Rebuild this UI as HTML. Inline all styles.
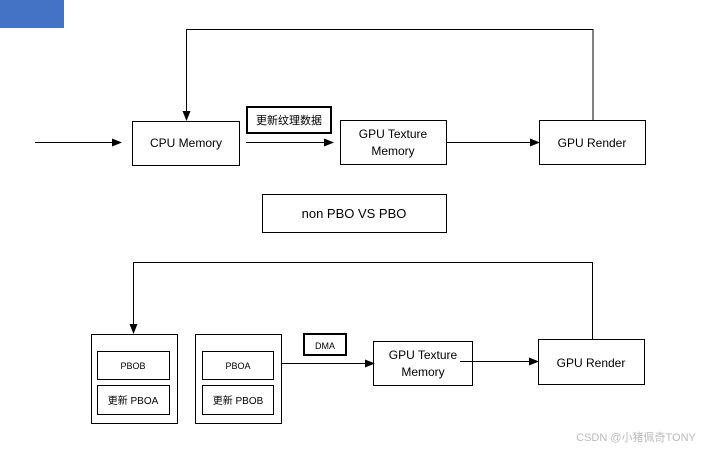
<!DOCTYPE html>
<html><head><meta charset="utf-8"><style>
html,body{margin:0;padding:0;background:#fff;width:712px;height:450px;overflow:hidden}
svg text{font-family:"Liberation Sans","Noto Sans CJK SC",sans-serif;fill:#000}
</style></head><body>
<svg width="712" height="450" viewBox="0 0 712 450" xmlns="http://www.w3.org/2000/svg">
<defs><marker id="a" markerWidth="10" markerHeight="8" refX="9" refY="4" orient="auto" markerUnits="userSpaceOnUse"><path d="M0,0 L10,4 L0,8z" fill="#000"/></marker></defs>
<rect x="0" y="0" width="64" height="28" fill="#4472c4"/>
<g fill="none" stroke="#000" stroke-width="1">
<polyline points="593,120 593,29.5 186.5,29.5 186.5,120" marker-end="url(#a)"/>
<line x1="35" y1="142.5" x2="121" y2="142.5" marker-end="url(#a)"/>
<line x1="246" y1="142.5" x2="333" y2="142.5" marker-end="url(#a)"/>
<line x1="446" y1="142.5" x2="539" y2="142.5" marker-end="url(#a)"/>
<rect x="132.5" y="121.5" width="107" height="44"/>
<rect x="340.5" y="120.5" width="106" height="44"/>
<rect x="539.5" y="120.5" width="106" height="44"/>
<rect x="247" y="107" width="84" height="26" stroke-width="2"/>
<rect x="262.5" y="194.5" width="184" height="38"/>
<polyline points="592.5,339 592.5,262.5 133.5,262.5 133.5,333" marker-end="url(#a)"/>
<line x1="281" y1="363.5" x2="374" y2="363.5" marker-end="url(#a)"/>
<line x1="460" y1="361.5" x2="538" y2="361.5" marker-end="url(#a)"/>
<rect x="91.5" y="334.5" width="86" height="89"/>
<rect x="97.5" y="351.5" width="72" height="28"/>
<rect x="97.5" y="385.5" width="72" height="29"/>
<rect x="195.5" y="334.5" width="86" height="89"/>
<rect x="202.5" y="351.5" width="71" height="28"/>
<rect x="202.5" y="385.5" width="71" height="29"/>
<rect x="304" y="334" width="42" height="21" stroke-width="2"/>
<rect x="373.5" y="341.5" width="99" height="44"/>
<rect x="538.5" y="339.5" width="106" height="45"/>
</g>
<g font-size="12" text-anchor="middle">
<text x="186" y="147">CPU Memory</text>
<text x="393" y="138">GPU Texture</text>
<text x="393" y="155">Memory</text>
<text x="592" y="147">GPU Render</text>
<text x="289" y="124" font-size="11">更新纹理数据</text>
<text x="354" y="218" font-size="13">non PBO VS PBO</text>
<text x="133" y="369" font-size="9">PBOB</text>
<text x="133" y="404" font-size="10">更新 PBOA</text>
<text x="238" y="369" font-size="9">PBOA</text>
<text x="238" y="404" font-size="10">更新 PBOB</text>
<text x="325" y="349" font-size="9">DMA</text>
<text x="423" y="359">GPU Texture</text>
<text x="423" y="376">Memory</text>
<text x="591" y="367">GPU Render</text>
<text x="636" y="441" font-size="11" style="fill:#bbb">CSDN @小猪佩奇TONY</text>
</g>
</svg>
</body></html>
